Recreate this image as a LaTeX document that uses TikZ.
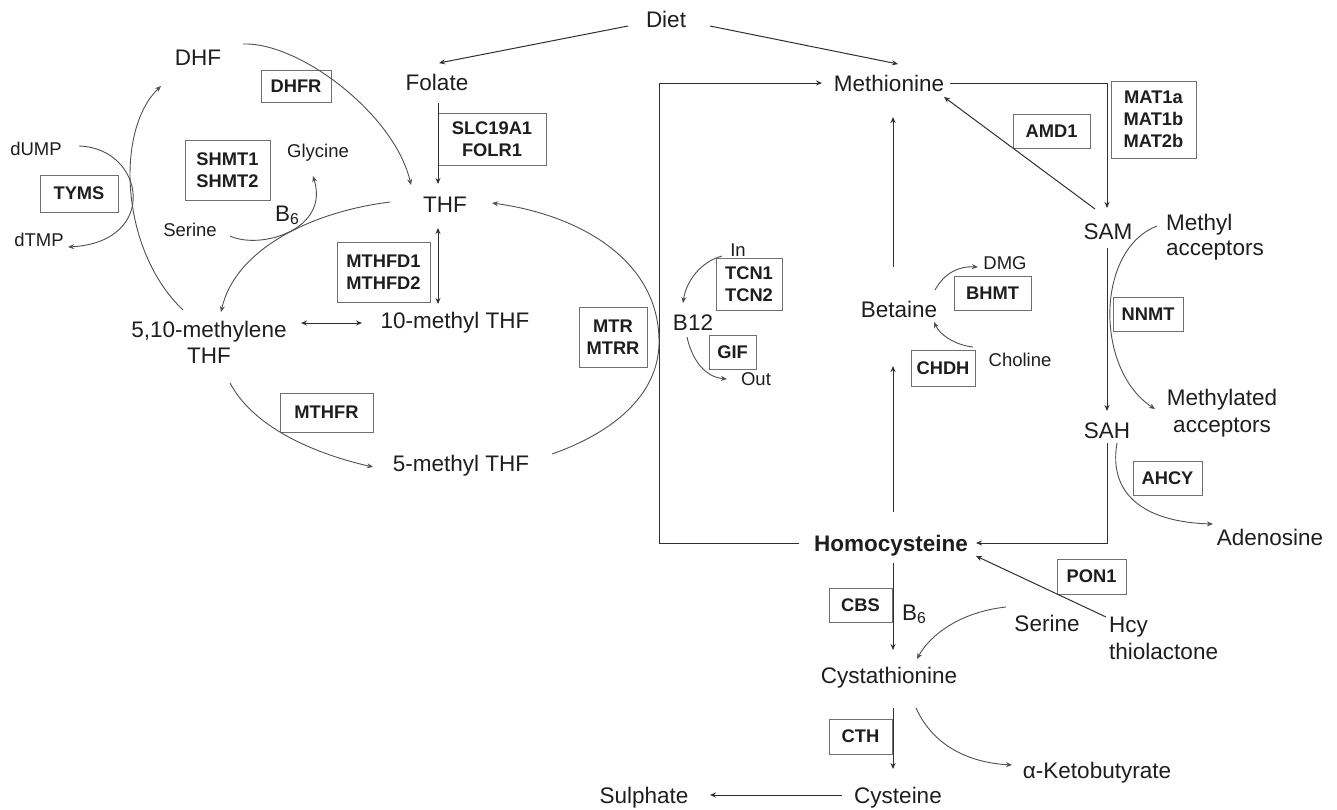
\documentclass[tikz,border=0pt]{standalone}
\usepackage{fontspec}
\setmainfont{Liberation Sans}
\usetikzlibrary{arrows.meta}
\definecolor{txt}{HTML}{1E1E1E}
\definecolor{lnc}{HTML}{303030}
\definecolor{curc}{HTML}{505050}
\definecolor{boxc}{HTML}{707070}
\begin{document}
\begin{tikzpicture}[x=1pt,y=-1pt,
  main/.style={font=\fontsize{22.5}{26}\selectfont, text=txt, inner sep=0pt, anchor=base},
  small/.style={font=\fontsize{18.5}{22}\selectfont, text=txt, inner sep=0pt, anchor=base},
  enz/.style={draw=boxc, line width=1pt, font=\fontsize{18.3}{22}\selectfont\bfseries, text=txt, align=center, inner sep=0pt},
  ln/.style={draw=lnc, line width=1pt},
  arr/.style={ln, -{Stealth[length=6pt,width=5pt]}},
  darr/.style={ln, {Stealth[length=6pt,width=5pt]}-{Stealth[length=6pt,width=5pt]}},
  cur/.style={draw=curc, line width=0.9pt, -{Stealth[length=6pt,width=5pt]}}
]
\fill[white] (0,0) rectangle (1337,809);
\useasboundingbox (0,0) rectangle (1337,809);

% ---------- main metabolites ----------
\node[main] (diet) at (666,27) {Diet};
\node[main] (folate) at (437,90) {Folate};
\node[main] (dhf) at (198,65) {DHF};
\node[main] (thf) at (445,212) {THF};
\node[main] (tenm) at (455,328) {10-methyl THF};
\node[main] (fivem) at (461,471) {5-methyl THF};
\node[main, anchor=center, align=center, font=\fontsize{22.5}{26}\selectfont] (methylene) at (209,342) {5,10-methylene\\THF};
\node[main] (b12) at (693,330) {B12};
\node[main] (meth) at (889,91) {Methionine};
\node[main] (sam) at (1108,239) {SAM};
\node[main, anchor=west, align=left, font=\fontsize{22.5}{25}\selectfont] (macc) at (1166,237.6) {Methyl\\acceptors};
\node[main] (betaine) at (899,317) {Betaine};
\node[main] (sah) at (1107,438) {SAH};
\node[main, anchor=center, align=center, font=\fontsize{22.5}{27}\selectfont] (mated) at (1222,413.6) {Methylated\\acceptors};
\node[main] (adeno) at (1270,545) {Adenosine};
\node[main, font=\fontsize{22.5}{26}\selectfont\bfseries] (hcy) at (891,551) {Homocysteine};
\node[main] (cysta) at (889,683) {Cystathionine};
\node[main] (cyst) at (898,803) {Cysteine};
\node[main] (sulph) at (644,803) {Sulphate};
\node[main] (aket) at (1097,778) {α-Ketobutyrate};
\node[main] (serR) at (1047,631) {Serine};
\node[main, anchor=west, align=left, font=\fontsize{22.5}{27}\selectfont] (hcyth) at (1109,638) {Hcy\\thiolactone};
\node[main, anchor=base west] (b6L) at (275,221) {B\textsubscript{6}};
\node[main, anchor=base west] (b6R) at (902,620) {B\textsubscript{6}};

% ---------- small labels ----------
\node[small] (dump) at (36,155.7) {dUMP};
\node[small] (dtmp) at (39,246.7) {dTMP};
\node[small] (gly) at (318,157.7) {Glycine};
\node[small] (serL) at (190,236.7) {Serine};
\node[small] (in) at (738,256.7) {In};
\node[small] (out) at (756,385.7) {Out};
\node[small] (dmg) at (1005,269.7) {DMG};
\node[small] (chol) at (1020,366.7) {Choline};

% ---------- enzyme boxes ----------
\node[enz, minimum width=70, minimum height=32] (dhfr) at (296,86) {DHFR};
\node[enz, minimum width=85, minimum height=60] (shmt) at (227.5,170) {SHMT1\\SHMT2};
\node[enz, minimum width=78, minimum height=37] (tyms) at (79,193.5) {TYMS};
\node[enz, minimum width=108, minimum height=52] (slc) at (492,139) {SLC19A1\\FOLR1};
\node[enz, minimum width=93, minimum height=60] (mthfd) at (383.5,272) {MTHFD1\\MTHFD2};
\node[enz, minimum width=93, minimum height=39] (mthfr) at (326.5,412.5) {MTHFR};
\node[enz, minimum width=68, minimum height=60] (mtr) at (613,337) {MTR\\MTRR};
\node[enz, minimum width=66, minimum height=52] (tcn) at (749,284) {TCN1\\TCN2};
\node[enz, minimum width=47, minimum height=34] (gif) at (732.5,352) {GIF};
\node[enz, minimum width=77, minimum height=34] (amd) at (1051.5,131) {AMD1};
\node[enz, minimum width=85, minimum height=77] (mat) at (1153.5,119.5) {MAT1a\\MAT1b\\MAT2b};
\node[enz, minimum width=77, minimum height=34] (bhmt) at (992.5,293) {BHMT};
\node[enz, minimum width=64, minimum height=36] (chdh) at (943,368) {CHDH};
\node[enz, minimum width=70, minimum height=34] (nnmt) at (1148,314) {NNMT};
\node[enz, minimum width=69, minimum height=34] (ahcy) at (1167.5,478) {AHCY};
\node[enz, minimum width=69, minimum height=35] (pon) at (1091.5,576.5) {PON1};
\node[enz, minimum width=63, minimum height=34] (cbs) at (860.5,605) {CBS};
\node[enz, minimum width=63, minimum height=35] (cth) at (860.5,736.5) {CTH};

% ---------- straight connectors ----------
\draw[arr] (628,26) -- (439,63);
\draw[arr] (710,26) -- (898,64);
\draw[arr] (438,103) -- (438,184);
\draw[darr] (438,228) -- (438,304);
\draw[darr] (301,323) -- (362,323);
\draw[arr] (799,543) -- (659,543) -- (659,83) -- (822,83);
\draw[arr] (950,83) -- (1107,83) -- (1107,208);
\draw[arr] (1095,209) -- (944,97);
\draw[arr] (893,267) -- (893,117);
\draw[arr] (893,512) -- (893,366);
\draw[arr] (1107,248) -- (1107,411);
\draw[arr] (1107,443) -- (1107,543) -- (976,543);
\draw[arr] (1106,617) -- (976,556);
\draw[arr] (893,563) -- (893,650);
\draw[arr] (893,708) -- (893,769);
\draw[arr] (842,795) -- (710,795);

% ---------- curved connectors ----------
\draw[cur] (243,44) .. controls (300,42) and (395,115) .. (411,185);
\draw[cur] (79,146) .. controls (145,148) and (160,242) .. (68,247);
\draw[cur] (183,310) .. controls (120,250) and (115,130) .. (161,86);
\draw[cur] (230,236) .. controls (260,250) and (330,230) .. (313,176);
\draw[cur] (390,202) .. controls (310,212) and (235,250) .. (221,312);
\draw[cur] (230,383) .. controls (255,430) and (320,455) .. (373,467);
\draw[cur] (552,454) .. controls (620,430) and (660,390) .. (659,340)
                    .. controls (658,260) and (580,215) .. (492,203);
\draw[cur] (722,256) .. controls (700,262) and (686,282) .. (683,303);
\draw[cur] (687,337) .. controls (692,360) and (705,377) .. (727,379);
\draw[cur] (935,290) .. controls (945,272) and (960,266) .. (978,267);
\draw[cur] (973,347) .. controls (955,345) and (940,335) .. (934,322);
\draw[cur] (1157,226) .. controls (1095,250) and (1095,370) .. (1155,409);
\draw[cur] (1117,443) .. controls (1108,495) and (1145,522) .. (1213,524);
\draw[cur] (1006,607) .. controls (960,612) and (930,635) .. (917,659);
\draw[cur] (916,708) .. controls (935,750) and (975,763) .. (1012,765);
\end{tikzpicture}
\end{document}
